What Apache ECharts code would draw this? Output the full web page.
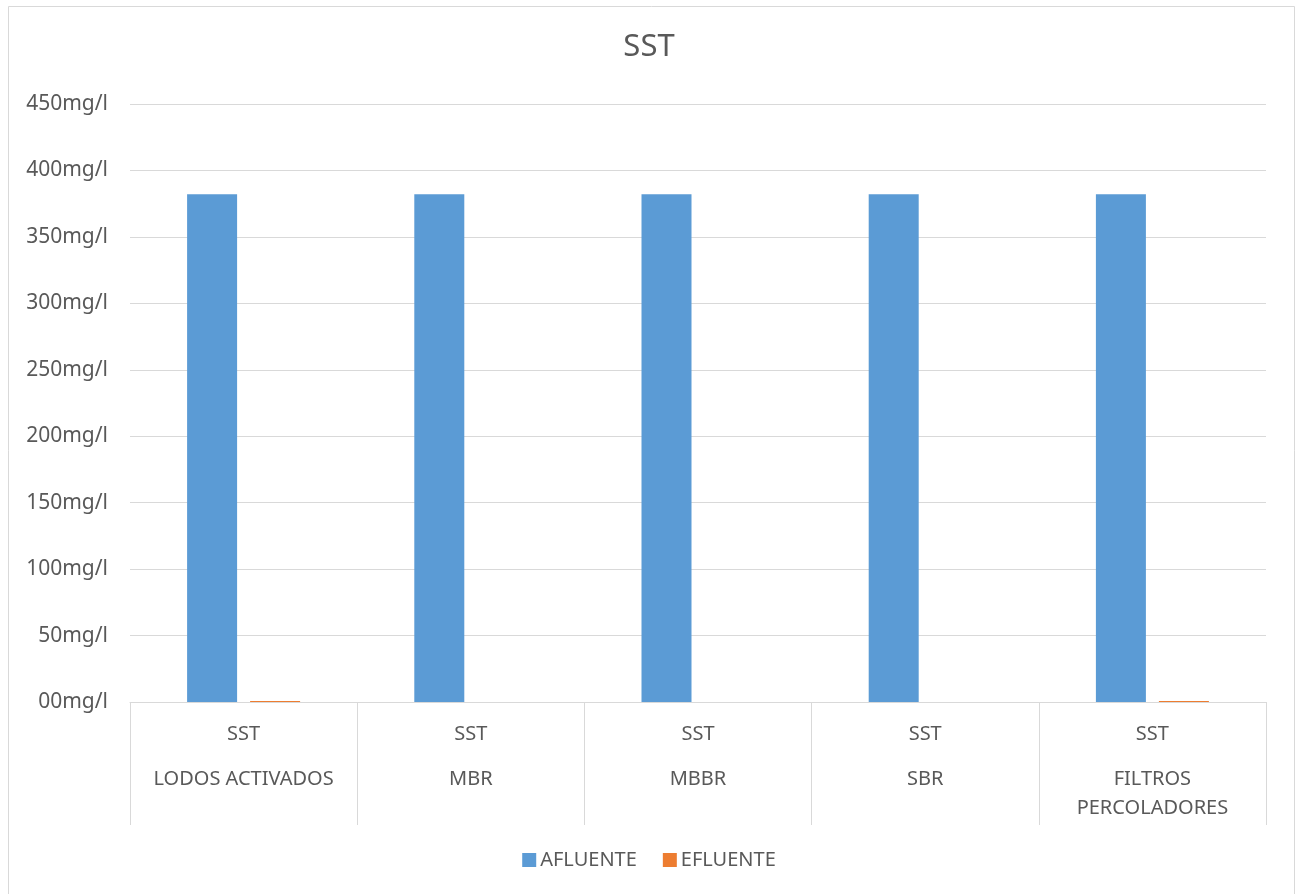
<!DOCTYPE html>
<html>
<head>
<meta charset="utf-8">
<script src="https://cdn.jsdelivr.net/npm/echarts@6/dist/echarts.min.js"></script>
<style>
    html, body { margin: 0; padding: 0; background: #fff; }
    #chart { width: 1298px; height: 894px; }
</style>
</head>
<body>
<div id="chart"></div>
<script>
    // datos
    var categorias = ['LODOS ACTIVADOS', 'MBR', 'MBBR', 'SBR', 'FILTROS PERCOLADORES'];
    var parametro = 'SST';
    var afluente = [382, 382, 382, 382, 382];
    var efluente = [0.8, 0, 0, 0, 0.8];
    var yMax = 450;
    var yPaso = 50;

    var textColor = '#595959';
    var lineColor = '#d9d9d9';
    var fuente = 'Noto Sans';

    var chart = echarts.init(document.getElementById('chart'));

    var option = {
        backgroundColor: '#fff',
        textStyle: { fontFamily: fuente },
        color: ['#5b9bd5', '#ed7d31'],
        title: {
            text: parametro,
            left: 'center',
            top: 27,
            textStyle: { color: textColor, fontSize: 31, fontWeight: 'normal', fontFamily: fuente }
        },
        legend: {
            bottom: 19,
            left: 'center',
            itemWidth: 14,
            itemHeight: 14,
            itemGap: 26,
            icon: 'rect',
            textStyle: { color: textColor, fontSize: 20, fontFamily: fuente, padding: [0, 0, 0, -1] },
            data: ['AFLUENTE', 'EFLUENTE']
        },
        grid: {
            left: 130,
            right: 32,
            top: 104,
            bottom: 192
        },
        xAxis: {
            type: 'category',
            data: categorias,
            axisLine: { lineStyle: { color: lineColor, width: 1 } },
            axisTick: { show: true, length: 123, interval: 0, lineStyle: { color: lineColor } },
            axisLabel: {
                interval: 0,
                margin: 2,
                color: textColor,
                formatter: function (name) {
                    // nombres largos en dos lineas
                    var partes = name.length > 16 ? name.split(' ') : [name];
                    return '{s|' + parametro + '}\n' + partes.map(function (p) { return '{n|' + p + '}'; }).join('\n');
                },
                rich: {
                    s: { fontSize: 20, lineHeight: 61, color: textColor, fontFamily: fuente },
                    n: { fontSize: 20, lineHeight: 29, color: textColor, fontFamily: fuente }
                }
            }
        },
        yAxis: {
            type: 'value',
            min: 0,
            max: yMax,
            interval: yPaso,
            axisLine: { show: false },
            axisTick: { show: false },
            splitLine: { lineStyle: { color: lineColor, width: 1 } },
            axisLabel: {
                margin: 22,
                color: textColor,
                fontSize: 21,
                formatter: function (v) {
                    return (v === 0 ? '00' : v) + 'mg/l';
                }
            }
        },
        series: [
            {
                name: 'AFLUENTE',
                type: 'bar',
                barWidth: 50,
                barGap: '26%',
                data: afluente
            },
            {
                name: 'EFLUENTE',
                type: 'bar',
                barWidth: 50,
                data: efluente
            }
        ],
        graphic: [{
            type: 'rect',
            shape: { x: 8.5, y: 6.5, width: 1286, height: 900 },
            style: { fill: 'none', stroke: lineColor, lineWidth: 1 },
            silent: true
        }]
    };

    chart.setOption(option);
</script>
</body>
</html>
